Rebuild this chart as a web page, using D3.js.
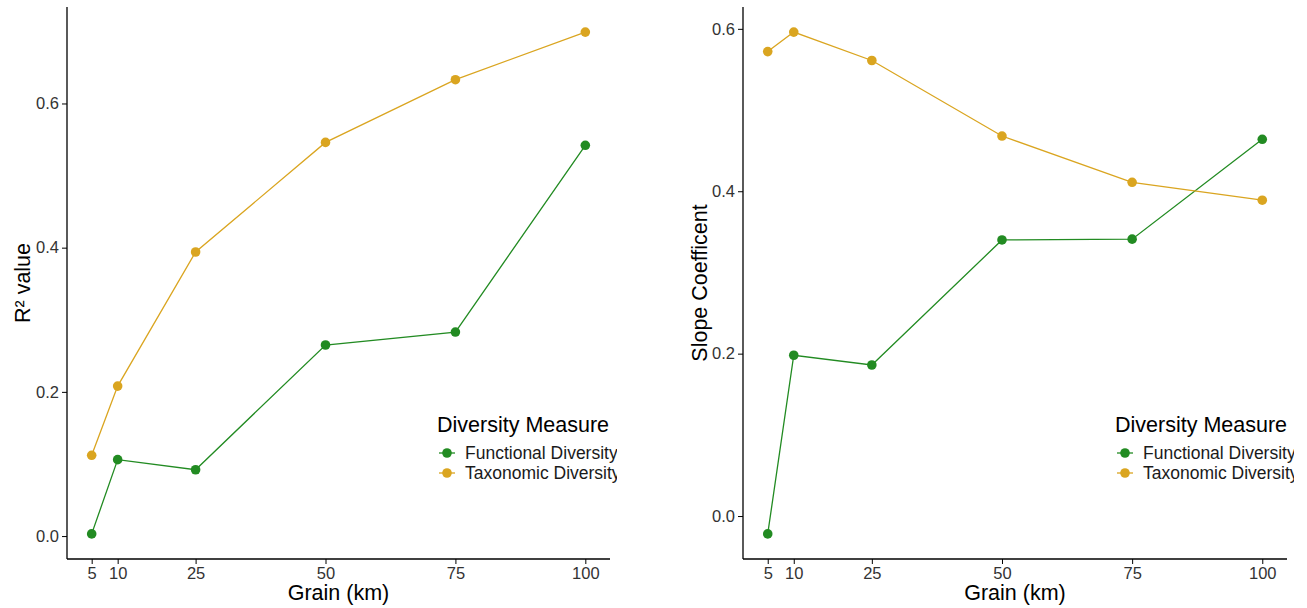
<!DOCTYPE html>
<html lang="en">
  <head>
    <meta charset="UTF-8" />
    <title>Grain vs Diversity</title>
    <script src="https://d3js.org/d3.v7.min.js"></script>
    <style>
      body {
        margin: 0;
        background: #fff;
        font-family: "Liberation Sans", Arial, sans-serif;
      }
      .tick text {
        fill: #333;
        font-size: 16.5px;
        font-family: "Liberation Sans", Arial, sans-serif;
      }
      .domain,
      .tick line {
        stroke: #000;
      }
    </style>
  </head>
  <body>
    <svg id="chart" width="1307" height="608"></svg>
    <script>
      const grains = [5, 10, 25, 50, 75, 100];
      const xTicks = [5, 10, 25, 50, 75, 100];
      const seriesNames = ["Functional Diversity", "Taxonomic Diversity"];
      const seriesColors = ["#228B22", "#DAA520"];

      const r2Functional = [0.003, 0.106, 0.092, 0.265, 0.283, 0.542];
      const r2Taxonomic = [0.112, 0.208, 0.394, 0.546, 0.633, 0.699];
      const slopeFunctional = [-0.022, 0.198, 0.186, 0.34, 0.341, 0.464];
      const slopeTaxonomic = [0.572, 0.596, 0.561, 0.468, 0.411, 0.389];

      const yTicks = [0, 0.2, 0.4, 0.6];

      const svg = d3.select("#chart");

      // ggplot style 5% expansion
      function expand(ext) {
        const pad = (ext[1] - ext[0]) * 0.05;
        return [ext[0] - pad, ext[1] + pad];
      }

      function drawPanel(opts) {
        const clipId = "clip-" + opts.id;
        svg
          .append("clipPath")
          .attr("id", clipId)
          .append("rect")
          .attr("x", opts.clipX0)
          .attr("y", 0)
          .attr("width", opts.clipX1 - opts.clipX0)
          .attr("height", 608);

        const g = svg.append("g").attr("clip-path", `url(#${clipId})`);

        const x = d3
          .scaleLinear()
          .domain(expand(d3.extent(grains)))
          .range([opts.left, opts.right]);

        const allVals = opts.series.flat();
        const y = d3
          .scaleLinear()
          .domain(expand(d3.extent(allVals)))
          .range([opts.bottom, opts.top]);

        // axes
        g.append("g")
          .attr("transform", `translate(0,${opts.bottom})`)
          .call(
            d3.axisBottom(x).tickValues(xTicks).tickSize(5).tickPadding(3)
          )
          .call((a) => a.select(".domain").attr("stroke-width", 1.3).attr("d", `M${opts.left},0H${opts.right}`));

        g.append("g")
          .attr("transform", `translate(${opts.left},0)`)
          .call(
            d3
              .axisLeft(y)
              .tickValues(yTicks)
              .tickFormat(d3.format(".1f"))
              .tickSize(5)
              .tickPadding(3)
          )
          .call((a) => a.select(".domain").attr("stroke-width", 1.3).attr("d", `M0,${opts.bottom}V${opts.top}`));

        // lines and points
        const line = d3
          .line()
          .x((d, i) => x(grains[i]))
          .y((d) => y(d));

        opts.series.forEach((vals, k) => {
          g.append("path")
            .datum(vals)
            .attr("fill", "none")
            .attr("stroke", seriesColors[k])
            .attr("stroke-width", 1.3)
            .attr("d", line);
          g.selectAll(null)
            .data(vals)
            .enter()
            .append("circle")
            .attr("cx", (d, i) => x(grains[i]))
            .attr("cy", (d) => y(d))
            .attr("r", 4.8)
            .attr("fill", seriesColors[k]);
        });

        // axis titles
        g.append("text")
          .attr("x", (opts.left + opts.right) / 2)
          .attr("y", 600)
          .attr("text-anchor", "middle")
          .attr("font-size", 21.5)
          .attr("fill", "#000")
          .text("Grain (km)");

        g.append("text")
          .attr(
            "transform",
            `translate(${opts.yTitleX},${(opts.top + opts.bottom) / 2}) rotate(-90)`
          )
          .attr("text-anchor", "middle")
          .attr("font-size", 21.5)
          .attr("fill", "#000")
          .text(opts.yTitle);

        // legend
        const lg = g
          .append("g")
          .attr("transform", `translate(${opts.legendX},0)`);
        lg.append("text")
          .attr("x", 0)
          .attr("y", 432)
          .attr("font-size", 21.5)
          .attr("fill", "#000")
          .text("Diversity Measure");
        seriesNames.forEach((name, k) => {
          const cy = 453 + k * 20;
          lg.append("line")
            .attr("x1", 2)
            .attr("x2", 18)
            .attr("y1", cy)
            .attr("y2", cy)
            .attr("stroke", seriesColors[k])
            .attr("stroke-width", 1.3);
          lg.append("circle")
            .attr("cx", 10)
            .attr("cy", cy)
            .attr("r", 4.8)
            .attr("fill", seriesColors[k]);
          lg.append("text")
            .attr("x", 28)
            .attr("y", cy + 6)
            .attr("font-size", 17.5)
            .attr("fill", "#1a1a1a")
            .text(name);
        });
      }

      drawPanel({
        id: "r2",
        left: 67,
        right: 610,
        top: 7,
        bottom: 559,
        clipX0: 0,
        clipX1: 617,
        yTitleX: 30,
        yTitle: "R² value",
        legendX: 437,
        series: [r2Functional, r2Taxonomic],
      });

      drawPanel({
        id: "slope",
        left: 743,
        right: 1287,
        top: 7,
        bottom: 559,
        clipX0: 650,
        clipX1: 1294,
        yTitleX: 707,
        yTitle: "Slope Coefficent",
        legendX: 1115,
        series: [slopeFunctional, slopeTaxonomic],
      });
    </script>
  </body>
</html>
